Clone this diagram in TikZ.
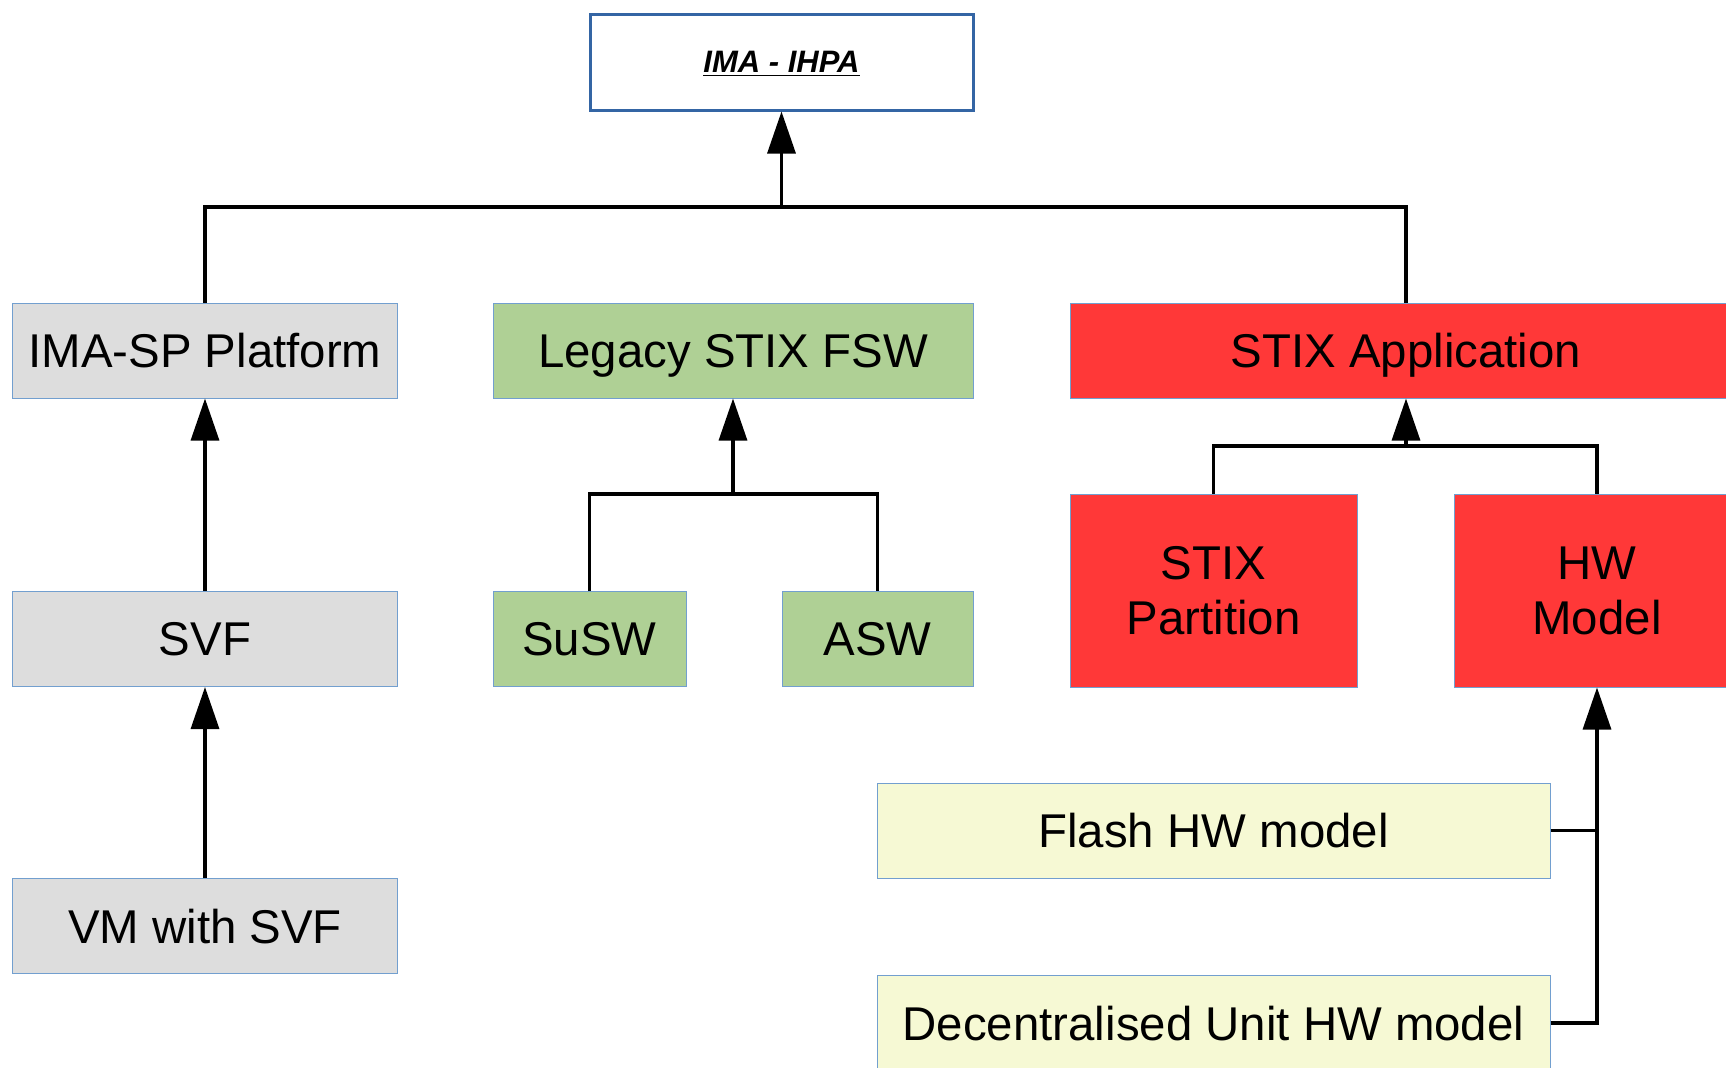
\documentclass[tikz,border=0pt]{standalone}
\usepackage{fontspec}
\setmainfont{Liberation Sans}
\usepackage{tikz}
\usetikzlibrary{arrows.meta}

\definecolor{boxline}{HTML}{729FCF}
\definecolor{topline}{HTML}{3465A4}
\definecolor{boxgrey}{HTML}{DDDDDD}
\definecolor{boxgreen}{HTML}{AFD095}
\definecolor{boxred}{HTML}{FF3838}
\definecolor{boxyellow}{HTML}{F6F9D4}

\begin{document}
\begin{tikzpicture}[
  x=0.5pt, y=-0.5pt,
  every node/.style={draw=boxline, line width=0.5pt, align=center, inner sep=0pt, text depth=0pt,
    font=\fontsize{23.7}{27.5}\selectfont},
  topbox/.style={draw=topline, line width=1.5pt, fill=white, minimum width=191.5pt, minimum height=48pt,
    font=\fontsize{15.5}{18}\selectfont},
  greybox/.style={fill=boxgrey, minimum width=192.5pt, minimum height=47.5pt},
  greenbox/.style={fill=boxgreen, minimum height=47.5pt},
  redbox/.style={fill=boxred},
  yellowbox/.style={fill=boxyellow, minimum width=336.5pt, minimum height=47.5pt},
  link/.style={draw, line width=1.6pt},
  up/.style={link, -{Triangle[length=21pt,width=14pt]}}
  ]

  \useasboundingbox (0,0) rectangle (1726,1067);

  \node[topbox] (ima) at (781.5,62) {\underline{\textbf{\textit{IMA - IHPA}}}};

  \node[greybox] (plat) at (205,350.5) {IMA-SP Platform};
  \node[greybox] (svf) at (205,639) {SVF};
  \node[greybox] (vm) at (205,926) {VM with SVF};

  \node[greenbox, minimum width=240pt] (legacy) at (733,350.5) {Legacy STIX FSW};
  \node[greenbox, minimum width=96.5pt] (susw) at (589.5,639) {SuSW};
  \node[greenbox, minimum width=95.5pt] (asw) at (877.5,639) {ASW};

  \node[redbox, minimum width=336pt, minimum height=47.5pt] (app) at (1406,350.5) {STIX Application};
  \node[redbox, minimum width=143.5pt, minimum height=96.5pt] (part) at (1213.5,590.5) {STIX\\Partition};
  \node[redbox, minimum width=143pt, minimum height=96.5pt] (hw) at (1597,590.5) {HW\\Model};

  \node[yellowbox] (flash) at (1213.5,830.5) {Flash HW model};
  \node[yellowbox] (dec) at (1213.5,1023) {Decentralised Unit HW model};

  \coordinate (topbus) at (781.5,207);
  \coordinate (legbus) at (733,494);
  \coordinate (appbus) at (1406,446);

  \draw[link] (plat.north) |- (topbus) -| (app.north);
  \draw[up] (topbus) -- (ima.south);

  \draw[up] (svf.north) -- (plat.south);
  \draw[up] (vm.north) -- (svf.south);

  \draw[link] (susw.north) |- (legbus) -| (asw.north);
  \draw[up] (legbus) -- (legacy.south);

  \draw[link] (part.north) |- (appbus) -| (hw.north);
  \draw[up] (appbus) -- (app.south);

  \draw[link] (flash.east) -- (flash.east -| hw.south);
  \draw[up] (dec.east) -| (hw.south);
\end{tikzpicture}
\end{document}
